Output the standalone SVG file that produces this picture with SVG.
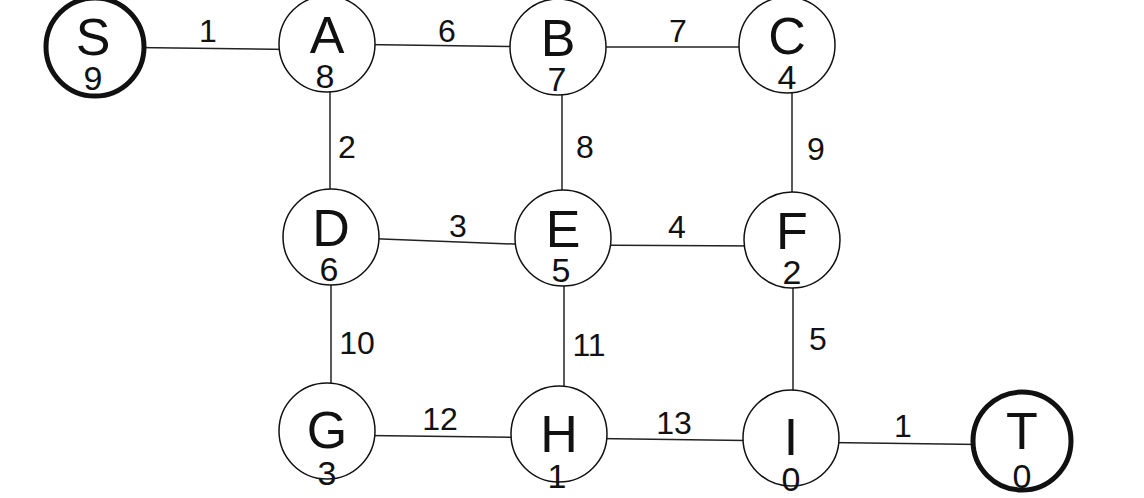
<svg xmlns="http://www.w3.org/2000/svg" width="1144" height="498" viewBox="0 0 1144 498">
<style>
.n{fill:#fff;stroke:#111;stroke-width:1.5}
.t{fill:#fff;stroke:#111;stroke-width:5}
.l{font-family:"Liberation Sans",Arial,sans-serif;font-size:52px;text-anchor:middle;fill:#111}
.v{font-family:"Liberation Sans",Arial,sans-serif;font-size:34px;text-anchor:middle;fill:#111}
.e{font-family:"Liberation Sans",Arial,sans-serif;font-size:32px;text-anchor:middle;fill:#111}
line{stroke:#222;stroke-width:1.5}
</style>
<rect width="1144" height="498" fill="#fff"/>
<g id="connectors">
<line x1="95" y1="47" x2="327" y2="50"/>
<line x1="327" y1="44" x2="558" y2="47"/>
<line x1="558" y1="47" x2="787" y2="47"/>
<line x1="330" y1="44" x2="330" y2="237"/>
<line x1="562" y1="47" x2="562" y2="238"/>
<line x1="792" y1="45" x2="792" y2="240"/>
<line x1="331" y1="237" x2="563" y2="246"/>
<line x1="563" y1="245" x2="792" y2="246"/>
<line x1="331" y1="237" x2="331" y2="431"/>
<line x1="564" y1="238" x2="564" y2="434"/>
<line x1="793" y1="240" x2="793" y2="438"/>
<line x1="327" y1="435" x2="559" y2="438"/>
<line x1="559" y1="438" x2="791" y2="441"/>
<line x1="791" y1="442" x2="1022" y2="445"/>
<text class="e" x="208" y="42">1</text>
<text class="e" x="447" y="42">6</text>
<text class="e" x="678" y="42">7</text>
<text class="e" x="347" y="158">2</text>
<text class="e" x="585" y="158">8</text>
<text class="e" x="816" y="160">9</text>
<text class="e" x="458" y="237">3</text>
<text class="e" x="677" y="238">4</text>
<text class="e" x="357" y="354">10</text>
<text class="e" x="589" y="356">11</text>
<text class="e" x="818" y="350">5</text>
<text class="e" x="440" y="430">12</text>
<text class="e" x="674" y="434">13</text>
<text class="e" x="903" y="437">1</text>
</g>
<g id="S"><circle class="t" cx="95" cy="47" r="49"/><text class="l" x="93" y="55">S</text><text class="v" x="93" y="90">9</text></g>
<g id="A"><circle class="n" cx="327" cy="44" r="48"/><text class="l" x="327" y="53">A</text><text class="v" x="325" y="88">8</text></g>
<g id="B"><circle class="n" cx="558" cy="47" r="48"/><text class="l" x="558" y="56">B</text><text class="v" x="557" y="91">7</text></g>
<g id="C"><circle class="n" cx="787" cy="45" r="48"/><text class="l" x="787" y="54">C</text><text class="v" x="787" y="89">4</text></g>
<g id="D"><circle class="n" cx="331" cy="237" r="48"/><text class="l" x="331" y="246">D</text><text class="v" x="329" y="281">6</text></g>
<g id="E"><circle class="n" cx="563" cy="238" r="48"/><text class="l" x="563" y="247">E</text><text class="v" x="561" y="282">5</text></g>
<g id="F"><circle class="n" cx="792" cy="240" r="48"/><text class="l" x="792" y="249">F</text><text class="v" x="792" y="284">2</text></g>
<g id="G"><circle class="n" cx="327" cy="431" r="48"/><text class="l" x="327" y="448">G</text><text class="v" x="327" y="485">3</text></g>
<g id="H"><circle class="n" cx="559" cy="434" r="48"/><text class="l" x="559" y="452">H</text><text class="v" x="557" y="488">1</text></g>
<g id="I"><circle class="n" cx="791" cy="438" r="48"/><text class="l" x="791" y="455">I</text><text class="v" x="791" y="491">0</text></g>
<g id="T"><circle class="t" cx="1022" cy="441" r="49"/><text class="l" x="1022" y="449">T</text><text class="v" x="1022" y="488">0</text></g>
</svg>
